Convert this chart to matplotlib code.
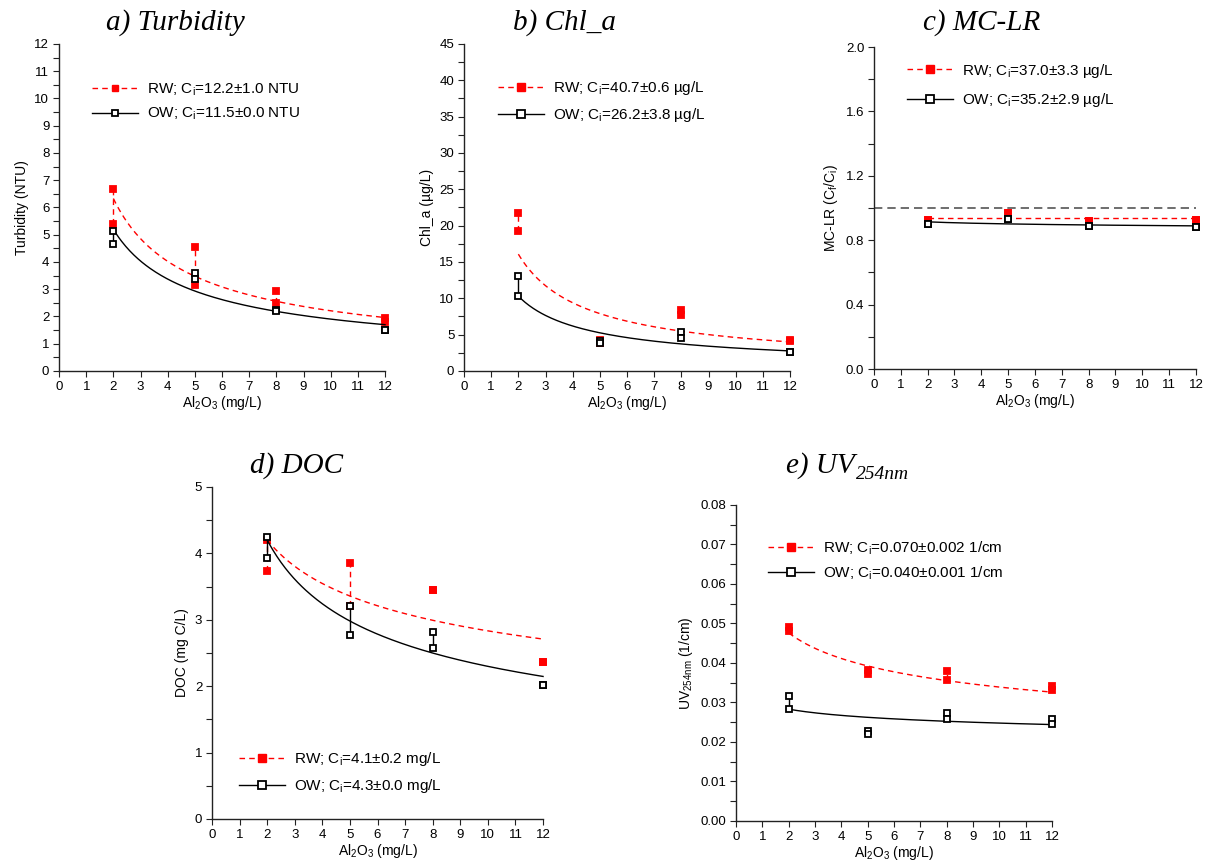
"""coagulation results: turbidity, chl_a, MC-LR, DOC and UV254 vs alum dose"""

import matplotlib
matplotlib.use('Agg')
import matplotlib.pyplot as plt
from matplotlib.lines import Line2D
from matplotlib.ticker import MultipleLocator, FormatStrFormatter
import numpy as np

plt.rcParams['font.family'] = ['Liberation Sans', 'DejaVu Sans']
plt.rcParams['mathtext.fontset'] = 'custom'
plt.rcParams['mathtext.rm'] = 'Liberation Sans'
plt.rcParams['mathtext.it'] = 'Liberation Serif:italic'

# Al2O3 doses (mg/L), two replicates per dose
doses = [2, 5, 8, 12]

turb_rw = [[6.67, 5.40], [4.55, 3.15], [2.93, 2.51], [1.96, 1.80]]
turb_ow = [[5.14, 4.65], [3.58, 3.39], [2.23, 2.19], [1.49, 1.49]]
chl_rw = [[21.8, 19.2], [4.3, 3.8], [8.4, 7.7], [4.23, 4.14]]
chl_ow = [[13.1, 10.3], [4.1, 3.9], [5.3, 4.6], [2.67, 2.67]]
mclr_rw = [[0.925, 0.925], [0.972, 0.972], [0.920, 0.920], [0.925, 0.925]]
mclr_ow = [[0.900, 0.900], [0.931, 0.931], [0.887, 0.887], [0.881, 0.881]]
doc_rw = [[4.20, 3.74], [3.86, 3.20], [3.45, 3.45], [2.36, 2.36]]
doc_ow = [[4.25, 3.93], [3.20, 2.77], [2.81, 2.58], [2.015, 2.015]]
uv_rw = [[0.0490, 0.0480], [0.0382, 0.0372], [0.0379, 0.0358], [0.0341, 0.0331]]
uv_ow = [[0.0317, 0.0283], [0.0228, 0.0220], [0.0273, 0.0258], [0.0258, 0.0246]]

# power-law fits y = a * x**b for each series
turb_fit = [(9.96, -0.654), (8.01, -0.624)]
chl_fit = [(27.53, -0.776), (17.12, -0.734)]
mclr_fit = [(0.935, 0.0), (0.924, -0.0155)]
doc_fit = [(4.98, -0.245), (5.45, -0.375)]
uv_fit = [(0.0551, -0.211), (0.02997, -0.0827)]

turb_labels = ['RW; C$_\\mathrm{i}$=12.2\u00b11.0 NTU', 'OW; C$_\\mathrm{i}$=11.5\u00b10.0 NTU']
chl_labels = ['RW; C$_\\mathrm{i}$=40.7\u00b10.6 \u00b5g/L', 'OW; C$_\\mathrm{i}$=26.2\u00b13.8 \u00b5g/L']
mclr_labels = ['RW; C$_\\mathrm{i}$=37.0\u00b13.3 \u00b5g/L', 'OW; C$_\\mathrm{i}$=35.2\u00b12.9 \u00b5g/L']
doc_labels = ['RW; C$_\\mathrm{i}$=4.1\u00b10.2 mg/L', 'OW; C$_\\mathrm{i}$=4.3\u00b10.0 mg/L']
uv_labels = ['RW; C$_\\mathrm{i}$=0.070\u00b10.002 1/cm', 'OW; C$_\\mathrm{i}$=0.040\u00b10.001 1/cm']

RED = '#ff0000'
DASH = (0, (4, 3))
AXCOL = '#222222'


def plot_series(ax, reps, fit, style, ms):
    color, ls, face, z = style
    a, b = fit
    xx = np.linspace(doses[0], doses[-1], 200)
    ax.plot(xx, a * xx ** b, color=color, ls=ls, lw=1.0, zorder=z, clip_on=False)
    for x, pair in zip(doses, reps):
        ax.plot([x, x], [min(pair), max(pair)], color=color, ls=ls, lw=1.0, zorder=z)
        ax.plot([x, x], pair, ls='none', marker='s', ms=ms, mfc=face,
                mec=color, mew=1.3, zorder=z + 1, clip_on=False)


RW_STYLE = (RED, DASH, RED, 3)
OW_STYLE = ('black', '-', 'white', 5)


def draw_panel(rect, rw, ow, fits, labels, ylabel, ylim, ystep, yminor, yfmt,
               leg_xy, leg_ms, leg_space, ms=4.8):
    ax = fig.add_axes(rect)
    plot_series(ax, rw, fits[0], RW_STYLE, ms)
    plot_series(ax, ow, fits[1], OW_STYLE, ms)

    ax.set_xlim(0, 12)
    ax.set_ylim(*ylim)
    ax.set_xticks(range(0, 13))
    ax.yaxis.set_major_locator(MultipleLocator(ystep))
    ax.yaxis.set_minor_locator(MultipleLocator(yminor))
    if yfmt:
        ax.yaxis.set_major_formatter(FormatStrFormatter(yfmt))
    for side in ('top', 'right'):
        ax.spines[side].set_visible(False)
    for side in ('left', 'bottom'):
        ax.spines[side].set_color(AXCOL)
        ax.spines[side].set_linewidth(1.0)
    ax.tick_params(which='both', direction='out', color=AXCOL, labelsize=9.5,
                   width=0.8, pad=3, length=4)
    ax.set_xlabel('Al$_\\mathrm{2}$O$_\\mathrm{3}$ (mg/L)', fontsize=10, labelpad=1)
    ax.set_ylabel(ylabel, fontsize=10, labelpad=4)

    handles = [
        Line2D([], [], color=RED, ls=DASH, lw=1.0, marker='s', ms=leg_ms,
               mfc=RED, mec=RED),
        Line2D([], [], color='black', ls='-', lw=1.0, marker='s', ms=leg_ms,
               mfc='white', mec='black', mew=1.3),
    ]
    ax.legend(handles, labels, loc='upper left', bbox_to_anchor=leg_xy,
              frameon=False, fontsize=11, borderpad=0, borderaxespad=0,
              handlelength=3.0, handletextpad=0.6, labelspacing=leg_space)
    return ax


fig = plt.figure(figsize=(12.1, 8.66), dpi=100)

draw_panel([0.0488, 0.5716, 0.2694, 0.3776], turb_rw, turb_ow, turb_fit, turb_labels,
           'Turbidity (NTU)', (0, 12), 1, 0.5, None, (0.101, 0.885), 4, 0.55)
draw_panel([0.3835, 0.5716, 0.2694, 0.3776], chl_rw, chl_ow, chl_fit, chl_labels,
           'Chl_a (\u00b5g/L)', (0, 45), 5, 2.5, None, (0.104, 0.892), 6, 0.6)
ax_c = draw_panel([0.7223, 0.5739, 0.2661, 0.3718], mclr_rw, mclr_ow, mclr_fit, mclr_labels,
                  'MC-LR (C$_\\mathrm{f}$/C$_\\mathrm{i}$)', (0, 2.0), 0.4, 0.2, '%.1f',
                  (0.102, 0.955), 6, 0.75)
ax_c.axhline(1.0, color='#555555', ls=(0, (5, 3)), lw=1.2, zorder=1)
draw_panel([0.1752, 0.0543, 0.2736, 0.3834], doc_rw, doc_ow, doc_fit, doc_labels,
           'DOC (mg C/L)', (0, 5), 1, 0.5, None, (0.082, 0.207), 6, 0.6)
draw_panel([0.6083, 0.0520, 0.2612, 0.3649], uv_rw, uv_ow, uv_fit, uv_labels,
           'UV$_\\mathrm{254nm}$ (1/cm)', (0, 0.08), 0.01, 0.005, '%.2f',
           (0.101, 0.890), 6, 0.5)

# panel titles
W, H = 1210, 866
title_kw = dict(family='Liberation Serif', style='italic', fontsize=21,
                ha='left', va='baseline')
fig.text(106 / W, 1 - 30 / H, 'a) Turbidity', **title_kw)
fig.text(513 / W, 1 - 30 / H, 'b) Chl_a', **title_kw)
fig.text(923 / W, 1 - 30 / H, 'c) MC-LR', **title_kw)
fig.text(250 / W, 1 - 473 / H, 'd) DOC', **title_kw)
t_e = fig.text(786 / W, 1 - 473 / H, 'e) UV', **title_kw)

# subscript of the UV title set right after the main text
fig.canvas.draw()
bb = t_e.get_window_extent()
fig.text(bb.x1 / W + 0.001, 1 - 479 / H, '254nm', family='Liberation Serif',
         style='italic', fontsize=14, ha='left', va='baseline')

fig.savefig('out.png', dpi=100)
